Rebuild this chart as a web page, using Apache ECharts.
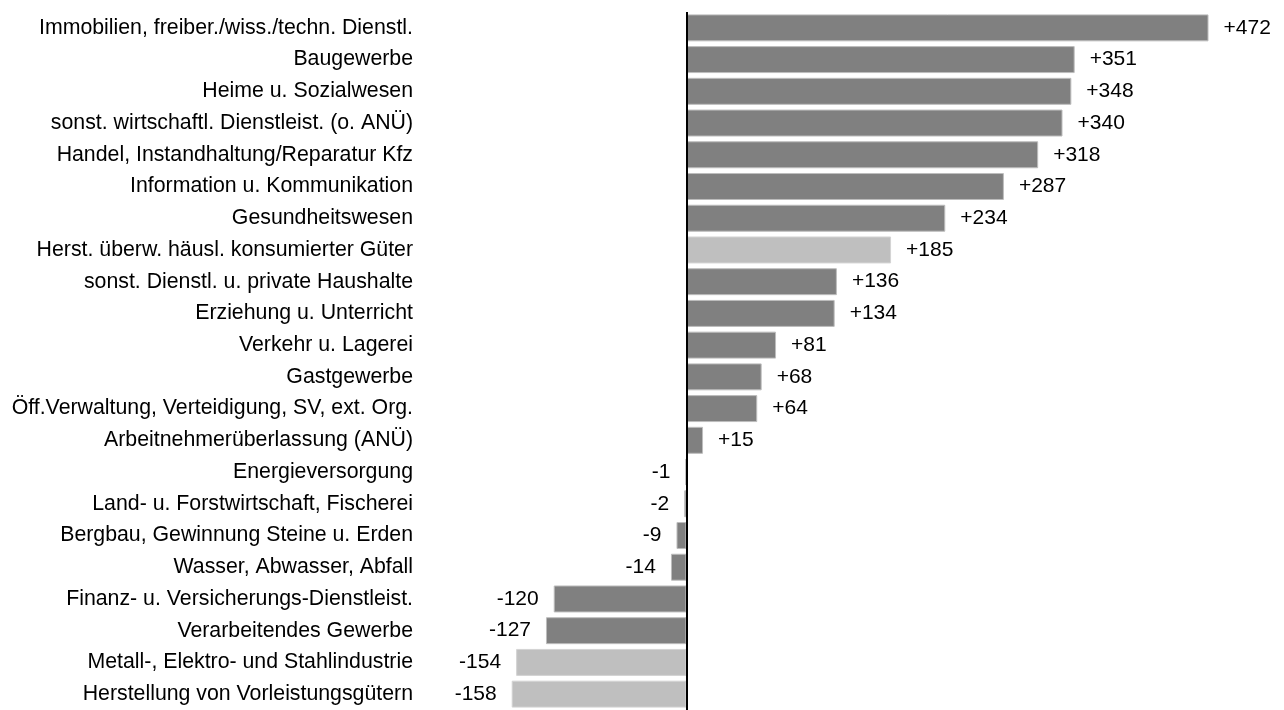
<!DOCTYPE html>
<html>
<head>
<meta charset="utf-8">
<script src="https://cdn.jsdelivr.net/npm/echarts@6/dist/echarts.min.js"></script>
<style>html,body{margin:0;padding:0;background:#fff}#c{width:1284px;height:710px}</style>
</head>
<body>
<div id="c"></div>
<script>
const categories = [
  "Immobilien, freiber./wiss./techn. Dienstl.",
  "Baugewerbe",
  "Heime u. Sozialwesen",
  "sonst. wirtschaftl. Dienstleist. (o. ANÜ)",
  "Handel, Instandhaltung/Reparatur Kfz",
  "Information u. Kommunikation",
  "Gesundheitswesen",
  "Herst. überw. häusl. konsumierter Güter",
  "sonst. Dienstl. u. private Haushalte",
  "Erziehung u. Unterricht",
  "Verkehr u. Lagerei",
  "Gastgewerbe",
  "Öff.Verwaltung, Verteidigung, SV, ext. Org.",
  "Arbeitnehmerüberlassung (ANÜ)",
  "Energieversorgung",
  "Land- u. Forstwirtschaft, Fischerei",
  "Bergbau, Gewinnung Steine u. Erden",
  "Wasser, Abwasser, Abfall",
  "Finanz- u. Versicherungs-Dienstleist.",
  "Verarbeitendes Gewerbe",
  "Metall-, Elektro- und Stahlindustrie",
  "Herstellung von Vorleistungsgütern"
];
const values = [472, 351, 348, 340, 318, 287, 234, 185, 136, 134, 81, 68, 64, 15, -1, -2, -9, -14, -120, -127, -154, -158];
const highlighted = [false, false, false, false, false, false, false, true, false, false, false, false, false, false, false, false, false, false, false, false, true, true];

const FONT = "'Liberation Sans', Arial, sans-serif";
const chart = echarts.init(document.getElementById('c'), null, {renderer: 'canvas'});
const data = values.map((v, i) => ({
  value: v,
  itemStyle: highlighted[i]
    ? {color: '#bfbfbf', borderColor: '#d4d4d4', borderWidth: 1}
    : {color: '#808080', borderColor: '#bdbdbd', borderWidth: 1},
  label: {position: v >= 0 ? 'right' : 'left'}
}));
chart.setOption({
  animation: false,
  grid: {left: 421, top: 12, width: 840.6, bottom: 0, containLabel: false},
  xAxis: {
    type: 'value', min: -240, max: 520,
    show: false
  },
  yAxis: {
    type: 'category', data: categories, inverse: true,
    axisLine: {show: false}, axisTick: {show: false},
    axisLabel: {color: '#000', fontSize: 21.3, fontFamily: FONT, margin: 8}
  },
  series: [{
    type: 'bar', data: data, barCategoryGap: '15%',
    label: {
      show: true, distance: 15, color: '#000', fontSize: 21, fontFamily: FONT,
      formatter: p => (p.value > 0 ? '+' : '') + p.value
    },
    markLine: {
      silent: true, symbol: 'none', label: {show: false},
      lineStyle: {color: '#000', width: 2, type: 'solid'},
      data: [{xAxis: 0}]
    }
  }]
});
</script>
</body>
</html>
